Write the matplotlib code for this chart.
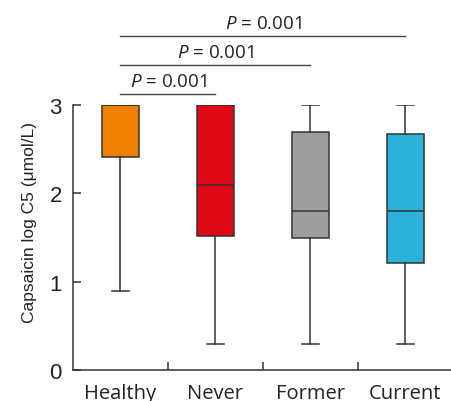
import matplotlib
matplotlib.use("Agg")
import matplotlib.pyplot as plt

# group names and box statistics
groups = ["Healthy", "Never", "Former", "Current"]
whislo = [0.9, 0.3, 0.3, 0.3]
q1 = [2.41, 1.52, 1.50, 1.21]
med = [3.0, 2.09, 1.80, 1.80]
q3 = [3.0, 3.0, 2.69, 2.67]
whishi = [3.0, 3.0, 3.0, 3.0]
colors = ["#F08000", "#E00816", "#9E9E9E", "#2AB2DA"]
yticks = [0, 1, 2, 3]

# pairwise comparisons: (group i, group j, line height, label)
comparisons = [(0, 1, 3.13, "0.001"), (0, 2, 3.45, "0.001"), (0, 3, 3.78, "0.001")]

plt.rcParams["mathtext.fontset"] = "custom"
plt.rcParams["mathtext.it"] = "Open Sans:italic"
plt.rcParams["mathtext.rm"] = "Open Sans"

fig = plt.figure(figsize=(4.52, 4.02), dpi=100)
ax = fig.add_axes([0.1615, 0.0771, 0.8407, 0.6592])

edge = "#333333"
txt = "#222222"
stats = []
for i, g in enumerate(groups):
    stats.append(dict(label=g, whislo=whislo[i], q1=q1[i], med=med[i],
                      q3=q3[i], whishi=whishi[i], fliers=[]))
pos = list(range(1, len(groups) + 1))
bp = ax.bxp(stats, positions=pos, widths=0.38, capwidths=0.17,
            patch_artist=True, showfliers=False,
            boxprops=dict(edgecolor=edge, linewidth=1.1),
            whiskerprops=dict(color=edge, linewidth=1.1),
            capprops=dict(color=edge, linewidth=1.1),
            medianprops=dict(color=edge, linewidth=1.1))
for patch, c in zip(bp["boxes"], colors):
    patch.set_facecolor(c)

ax.set_xlim(0.5, 4.5)
ax.set_ylim(0, 3)
ax.set_yticks(yticks)
ax.set_yticklabels([str(v) for v in yticks], fontfamily="Liberation Sans",
                   fontsize=16, color=txt)
ax.set_xticks(pos)
ax.set_xticklabels(groups, fontfamily="Open Sans", fontsize=14.5, color=txt)
ax.set_xticks([1.5, 2.5, 3.5], minor=True)
ax.tick_params(axis="x", which="major", length=0, pad=9)
ax.tick_params(axis="x", which="minor", direction="in", length=5.8, width=1.1, color=edge)
ax.tick_params(axis="y", direction="in", length=5.8, width=1.1, color=edge, pad=8)

for s in ["top", "right"]:
    ax.spines[s].set_visible(False)
for s in ["left", "bottom"]:
    ax.spines[s].set_color(edge)
    ax.spines[s].set_linewidth(1.1)

ax.set_ylabel("Capsaicin log C5 (\u03bcmol/L)", fontfamily="Liberation Sans",
              fontsize=12.5, color=txt)
ax.yaxis.set_label_coords(-0.095, 0.56)

for i, j, h, p in comparisons:
    ax.plot([pos[i], pos[j]], [h, h], color="#444444", linewidth=1.0, clip_on=False)
    ax.text((pos[i] + pos[j]) / 2, h + 0.09, "$P$ = " + p, ha="center",
            va="baseline", fontfamily="Open Sans", fontsize=13.5, color=txt)

fig.savefig("out.png", dpi=100)
